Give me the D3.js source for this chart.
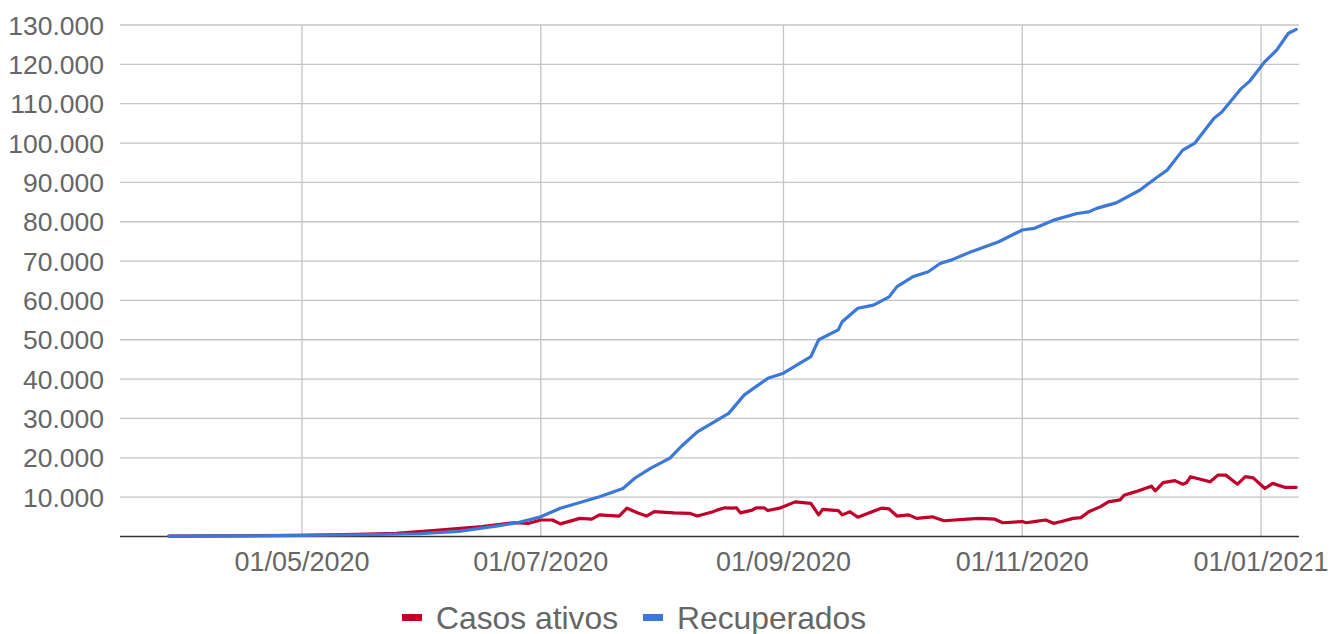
<!DOCTYPE html>
<html>
<head>
<meta charset="utf-8">
<script src="https://cdn.jsdelivr.net/npm/d3@7"></script>
<style>
  body { margin: 0; background: #fff; }
  svg text { font-family: Arial, "Liberation Sans", sans-serif; fill: #666; }
</style>
</head>
<body>
<div id="chart"></div>
<script>
// Recuperados (datas e valores)
var recDates = ["2020-03-28","2020-04-15","2020-05-01","2020-05-15","2020-05-31","2020-06-10","2020-06-20","2020-06-25",
  "2020-07-01","2020-07-06","2020-07-16","2020-07-22","2020-07-25","2020-07-29","2020-08-03","2020-08-06","2020-08-10",
  "2020-08-18","2020-08-22","2020-08-28","2020-09-01","2020-09-08","2020-09-10","2020-09-15","2020-09-16","2020-09-20",
  "2020-09-24","2020-09-28","2020-09-30","2020-10-04","2020-10-08","2020-10-11","2020-10-14","2020-10-19","2020-10-26",
  "2020-11-01","2020-11-04","2020-11-09","2020-11-15","2020-11-18","2020-11-20","2020-11-25","2020-12-01","2020-12-05",
  "2020-12-08","2020-12-12","2020-12-15","2020-12-20","2020-12-22","2020-12-27","2020-12-29","2021-01-02","2021-01-05",
  "2021-01-08","2021-01-10"];
var recValues = [100,150,300,450,700,1300,2700,3500,
  5000,7200,10100,12200,14800,17300,19900,23000,26600,
  31300,36000,40200,41500,45700,50000,52500,54600,58000,
  58800,60900,63500,66000,67300,69400,70300,72400,74900,
  77900,78300,80400,82100,82500,83400,84800,88000,91000,
  93100,98200,99900,106300,107900,113900,115600,120700,123600,
  127900,128900];

// Casos ativos
var atvDates = ["2020-03-28","2020-05-01","2020-05-15","2020-05-25","2020-06-05","2020-06-16","2020-06-24","2020-06-28",
  "2020-07-01","2020-07-04","2020-07-06","2020-07-11","2020-07-14","2020-07-16","2020-07-21","2020-07-23","2020-07-26",
  "2020-07-28","2020-07-30","2020-08-04","2020-08-08","2020-08-10","2020-08-14","2020-08-15","2020-08-17","2020-08-19",
  "2020-08-20","2020-08-21","2020-08-24","2020-08-25","2020-08-27","2020-08-28","2020-08-31","2020-09-04","2020-09-08",
  "2020-09-10","2020-09-11","2020-09-15","2020-09-16","2020-09-18","2020-09-20","2020-09-26","2020-09-28","2020-09-30",
  "2020-10-03","2020-10-05","2020-10-09","2020-10-12","2020-10-18","2020-10-21","2020-10-25","2020-10-27","2020-11-01",
  "2020-11-02","2020-11-04","2020-11-07","2020-11-09","2020-11-11","2020-11-14","2020-11-16","2020-11-18","2020-11-21",
  "2020-11-23","2020-11-26","2020-11-27","2020-11-30","2020-12-04","2020-12-05","2020-12-07","2020-12-10","2020-12-12",
  "2020-12-13","2020-12-14","2020-12-19","2020-12-21","2020-12-23","2020-12-26","2020-12-28","2020-12-30","2021-01-02",
  "2021-01-04","2021-01-07","2021-01-10"];
var atvValues = [100,300,550,800,1650,2500,3500,3350,
  4200,4200,3200,4600,4400,5500,5200,7200,5900,
  5200,6300,6000,5900,5200,6300,6700,7300,7200,
  7300,6000,6700,7300,7300,6600,7200,8800,8400,
  5500,6900,6600,5500,6300,4900,7200,7000,5200,
  5500,4600,5000,4000,4400,4600,4400,3500,3800,
  3500,3800,4200,3350,3800,4600,4800,6300,7600,
  8800,9300,10500,11400,12800,11600,13700,14200,13300,
  13700,15200,13900,15600,15600,13300,15200,14900,12200,
  13500,12500,12500];

var yTicks = [10000,20000,30000,40000,50000,60000,70000,80000,90000,100000,110000,120000,130000];
var xTicks = ["2020-05-01","2020-07-01","2020-09-01","2020-11-01","2021-01-01"];
var seriesNames = ["Casos ativos", "Recuperados"];
var seriesColors = ["#c0002b", "#3c78d8"];

var width = 1341, height = 634;
var parse = d3.timeParse("%Y-%m-%d");
var fmtDate = d3.timeFormat("%d/%m/%Y");
var fmtNum = function(v){ return d3.format(",")(v).replace(/,/g, "."); };

var svg = d3.select("#chart").append("svg")
    .attr("width", width)
    .attr("height", height);

var x = d3.scaleTime()
    .domain([new Date(2020, 2, 15, 12), new Date(2021, 0, 10, 17)])
    .range([120, 1299]);
var y = d3.scaleLinear()
    .domain([0, 130000])
    .range([536.5, 25]);

// horizontal grid
svg.append("g").selectAll("line").data(yTicks).enter()
  .append("line")
  .attr("x1", 120).attr("x2", 1299)
  .attr("y1", function(d){ return y(d); })
  .attr("y2", function(d){ return y(d); })
  .attr("stroke", "#c4c4c4")
  .attr("stroke-width", 1.3);

// vertical grid
svg.append("g").selectAll("line").data(xTicks).enter()
  .append("line")
  .attr("x1", function(d){ return x(parse(d)); })
  .attr("x2", function(d){ return x(parse(d)); })
  .attr("y1", y(130000)).attr("y2", y(0))
  .attr("stroke", "#c4c4c4")
  .attr("stroke-width", 1.3);

// y labels
svg.append("g").selectAll("text").data(yTicks).enter()
  .append("text")
  .attr("x", 104)
  .attr("y", function(d){ return y(d) + 9.5; })
  .attr("text-anchor", "end")
  .style("font-size", "26.5px")
  .text(fmtNum);

// x labels
svg.append("g").selectAll("text").data(xTicks).enter()
  .append("text")
  .attr("x", function(d){ return x(parse(d)); })
  .attr("y", 571)
  .attr("text-anchor", "middle")
  .style("font-size", "27px")
  .text(function(d){ return fmtDate(parse(d)); });

// baseline
svg.append("line")
  .attr("x1", 120).attr("x2", 1299)
  .attr("y1", y(0)).attr("y2", y(0))
  .attr("stroke", "#333")
  .attr("stroke-width", 1.5);

var line = d3.line()
    .x(function(d){ return x(d.date); })
    .y(function(d){ return y(d.value); });

function toSeries(dates, values) {
  return dates.map(function(d, i){ return { date: parse(d), value: values[i] }; });
}

var allSeries = [toSeries(atvDates, atvValues), toSeries(recDates, recValues)];

svg.append("g").selectAll("path").data(allSeries).enter()
  .append("path")
  .attr("d", line)
  .attr("fill", "none")
  .attr("stroke", function(d, i){ return seriesColors[i]; })
  .attr("stroke-width", 3.2)
  .attr("stroke-linejoin", "round")
  .attr("stroke-linecap", "round");

// legend
var legX = [402, 643];
var leg = svg.append("g").selectAll("g").data(seriesNames).enter()
  .append("g")
  .attr("transform", function(d, i){ return "translate(" + legX[i] + ",617.5)"; });
leg.append("rect")
  .attr("x", 0).attr("y", -3.5)
  .attr("width", 20).attr("height", 7)
  .attr("fill", function(d, i){ return seriesColors[i]; });
leg.append("text")
  .attr("x", 34)
  .attr("y", 11)
  .style("font-size", "31.8px")
  .text(function(d){ return d; });
</script>
</body>
</html>
